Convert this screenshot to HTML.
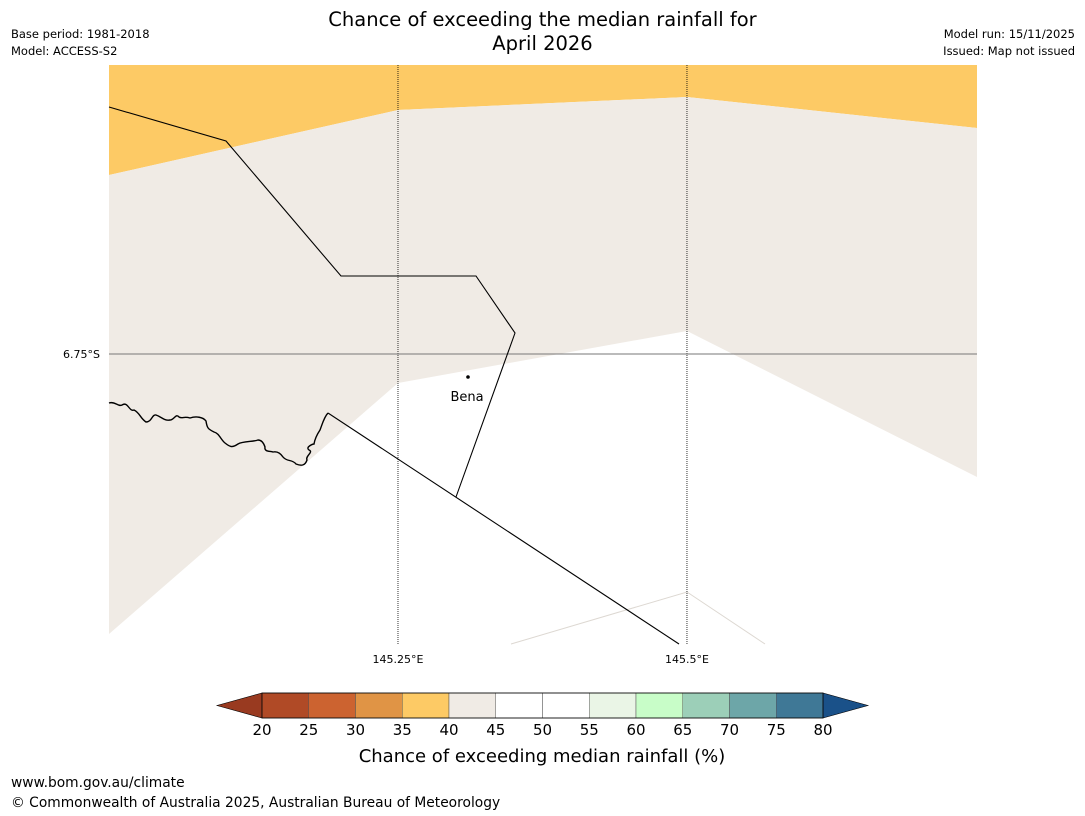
<!DOCTYPE html>
<html><head><meta charset="utf-8"><style>
body{margin:0;background:#fff;font-family:"Liberation Sans","DejaVu Sans",sans-serif;}
#wrap{position:relative;width:1085px;height:816px;overflow:hidden;}
.t{position:absolute;white-space:nowrap;color:#000;}
</style></head><body>
<div id="wrap">
<div class="t" style="left:0;width:1085px;top:8px;text-align:center;font-size:19.5px;line-height:24px;font-family:'DejaVu Sans',sans-serif">Chance of exceeding the median rainfall for<br>April 2026</div>
<div class="t" style="left:11px;top:27px;font-size:11.5px;font-family:'DejaVu Sans',sans-serif">Base period: 1981-2018</div>
<div class="t" style="left:11px;top:44px;font-size:11.5px;font-family:'DejaVu Sans',sans-serif">Model: ACCESS-S2</div>
<div class="t" style="right:10px;top:27px;font-size:11.5px;font-family:'DejaVu Sans',sans-serif">Model run: 15/11/2025</div>
<div class="t" style="right:10px;top:44px;font-size:11.5px;font-family:'DejaVu Sans',sans-serif">Issued: Map not issued</div>
<svg width="1085" height="816" style="position:absolute;left:0;top:0">
<g id="map"></g><g id="cbar"></g>
</svg>
<div class="t" style="left:11px;top:775px;font-size:13.8px;font-family:'DejaVu Sans',sans-serif">www.bom.gov.au/climate</div>
<div class="t" style="left:11px;top:795px;font-size:13.8px;font-family:'DejaVu Sans',sans-serif">© Commonwealth of Australia 2025, Australian Bureau of Meteorology</div>
</div>
<script>
const ticks=[20,25,30,35,40,45,50,55,60,65,70,75,80];
const binColors=["#b04a26","#cc6330","#e09445","#fdca65","#f0ebe5","#ffffff","#ffffff","#eaf5e6","#c8fdc8","#9ccfb8","#6da6a8","#3f7896"];
const lowColor="#993a20", highColor="#1a5189";
const lonTicks=[145.25,145.5];
const latTicks=[-6.75];
const NS="http://www.w3.org/2000/svg";
function mk(p,tag,a){const e=document.createElementNS(NS,tag);for(const k in a)e.setAttribute(k,a[k]);p.appendChild(e);return e;}
const X0=109,X1=977,Y0=65,Y1=644;
const lonMin=145.0,lonMax=145.7509,latMax=-6.4971,latMin=-7.0038;
const xs=l=>X0+(l-lonMin)/(lonMax-lonMin)*(X1-X0);
const ys=l=>Y0+(latMax-l)/(latMax-latMin)*(Y1-Y0);
const m=document.getElementById('map');
let e;
e=mk(m,'rect',{x:X0,y:Y0,width:X1-X0,height:Y1-Y0,fill:'#fff'});

e=mk(m,'polygon',{points:`${X0},${Y0} ${X1},${Y0} 977,128 687,97 398,110 109,175`,fill:'#fdca65'});

e=mk(m,'polygon',{points:`109,175 398,110 687,97 977,128 977,477 687,331 398,383 109,634`,fill:'#f0ebe5'});

e=mk(m,'polyline',{points:'511,644 687,592 765,644',fill:'none',stroke:'#ddd8d2','stroke-width':1});

lonTicks.forEach(l=>{const x=xs(l);
 e=mk(m,'line',{x1:x,x2:x,y1:Y0,y2:Y1,stroke:'#000','stroke-width':0.8,'stroke-dasharray':'1,1'});
 
 e=mk(m,'text',{x:x,y:663,'text-anchor':'middle','font-size':11,'font-family':'DejaVu Sans'});e.textContent=l+'°E';
 });
latTicks.forEach(l=>{const y=ys(l);
 e=mk(m,'line',{x1:X0,x2:X1,y1:y,y2:y,stroke:'#777','stroke-width':1});
 
 e=mk(m,'text',{x:100,y:y+4,'text-anchor':'end','font-size':11,'font-family':'DejaVu Sans'});e.textContent=Math.abs(l)+'°S';
 });
e=mk(m,'polyline',{points:'109,107 226,141 341,276 476,276 515,333 456,497',fill:'none',stroke:'#000','stroke-width':1.1});

e=mk(m,'polyline',{points:'328,413 679,644',fill:'none',stroke:'#000','stroke-width':1.1});

e=mk(m,'path',{d:'M109,403 C115,401 118,407 122,405 C128,401 129,412 134,410 C140,413 140,418 146,422 C152,422 152,414 156,415 C162,417 164,421 170,420 C174,420 176,413 179,417 C182,419 184,416 190,418 C196,416 203,417 206,421 C207,428 208,429 214,432 C219,433 221,440 225,443 C230,447 232,448 238,444 C243,441 253,442 258,440 C262,440 264,444 265,447 C264,452 270,451 273,452 C278,451 281,454 283,457 C287,462 292,459 296,464 C301,466 305,466 307,460 C305,456 314,452 309,450 C305,447 313,444 314,444 C315,438 318,433 320,430 C322,425 324,417 328,413',fill:'none',stroke:'#000','stroke-width':1.4});

e=mk(m,'circle',{cx:468,cy:377,r:1.8,fill:'#000'});

e=mk(m,'text',{x:467,y:401,'text-anchor':'middle','font-size':13,'font-family':'DejaVu Sans'});e.textContent='Bena';

const cb=document.getElementById('cbar');
const C0=262,C1=823,CY=693,CH=25;
const cx=v=>C0+(v-ticks[0])/(ticks[ticks.length-1]-ticks[0])*(C1-C0);
e=mk(cb,'polygon',{points:`${C0},${CY} ${C0},${CY+CH} 217,${CY+CH/2}`,fill:lowColor,stroke:'#000','stroke-width':0.6});

e=mk(cb,'polygon',{points:`${C1},${CY} ${C1},${CY+CH} 868,${CY+CH/2}`,fill:highColor,stroke:'#000','stroke-width':0.6});

binColors.forEach((c,i)=>{const a=cx(ticks[i]),b=cx(ticks[i+1]);
 e=mk(cb,'rect',{x:a,y:CY,width:b-a,height:CH,fill:c,stroke:'#555','stroke-width':0.5});
 });
e=mk(cb,'rect',{x:C0,y:CY,width:C1-C0,height:CH,fill:'none',stroke:'#000','stroke-width':0.8});

ticks.forEach(t=>{
 e=mk(cb,'text',{x:cx(t),y:735,'text-anchor':'middle','font-size':15,'font-family':'DejaVu Sans'});e.textContent=t;
 });
e=mk(cb,'text',{x:542,y:762,'text-anchor':'middle','font-size':18,'font-family':'DejaVu Sans'});e.textContent='Chance of exceeding median rainfall (%)';

</script>
</body></html>
